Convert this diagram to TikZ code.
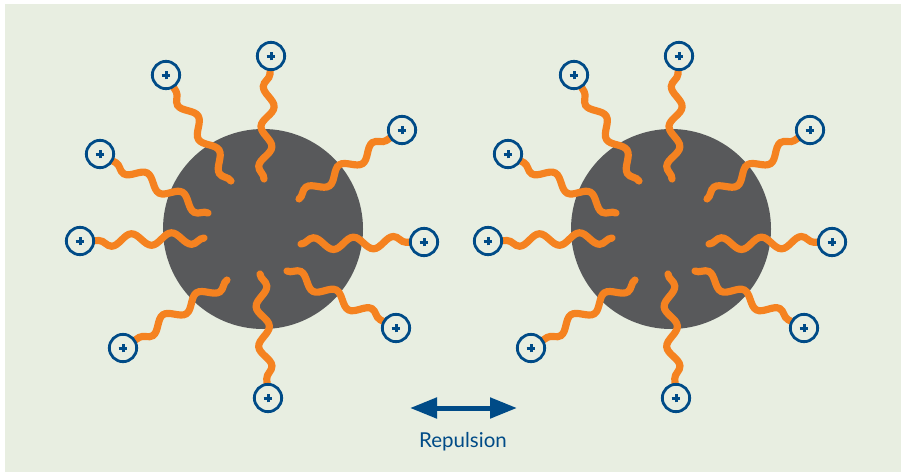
\documentclass[tikz,border=0pt]{standalone}
\usepackage{fontspec}
\setmainfont{Lato}
\usepackage{tikz}
\usetikzlibrary{arrows.meta, decorations.pathmorphing}
\definecolor{bgcol}{RGB}{232,238,225}
\definecolor{corecol}{RGB}{88,89,91}
\definecolor{tailcol}{RGB}{245,130,32}
\definecolor{headcol}{RGB}{0,75,135}
\pgfdeclarelayer{cores}
\pgfdeclarelayer{tails}
\pgfsetlayers{cores,tails,main}
\tikzstyle{core} = [circle, fill=corecol, minimum size=6cm, inner sep=0pt]
\tikzstyle{head} = [circle, draw=headcol, fill=bgcol, line width=2.4pt,
    minimum size=0.82cm, inner sep=0pt, outer sep=0pt,
    path picture={\draw[headcol, line width=0.09cm]
        ([xshift=-0.13cm]path picture bounding box.center) -- ([xshift=0.13cm]path picture bounding box.center)
        ([yshift=-0.13cm]path picture bounding box.center) -- ([yshift=0.13cm]path picture bounding box.center);}]
\tikzstyle{tail} = [draw=tailcol, line width=0.215cm, line cap=round, decorate,
    decoration={snake, segment length=1.2cm, amplitude=0.18cm}]
\tikzstyle{push} = [draw=headcol, line width=0.15cm,
    arrows={Triangle[length=0.81cm, width=0.6cm]-Triangle[length=0.81cm, width=0.6cm]}]
\tikzstyle{note} = [text=headcol, font=\fontsize{17.5}{20}\selectfont, inner sep=0pt]

% one particle: #1 name prefix, #2 x of its centre
\newcommand{\micelle}[2]{%
  \begin{scope}[shift={(#2,229)}]
    \begin{pgfonlayer}{cores}
      \node [core] (#1core) at (0,0) {};
    \end{pgfonlayer}
    % inner ends
    \coordinate (#1t1) at (-32,-48);
    \coordinate (#1t2) at (1,-50);
    \coordinate (#1t3) at (36,-30);
    \coordinate (#1t4) at (-55,-16);
    \coordinate (#1t5) at (-59,9);
    \coordinate (#1t6) at (38,15);
    \coordinate (#1t7) at (-36,51);
    \coordinate (#1t8) at (24,42);
    \coordinate (#1t9) at (-3,45);
    % charged heads
    \node [head] (#1h1) at (-97,-154) {};
    \node [head] (#1h2) at (8,-173) {};
    \node [head] (#1h3) at (139,-99) {};
    \node [head] (#1h4) at (-163,-75) {};
    \node [head] (#1h5) at (-183,12) {};
    \node [head] (#1h6) at (161,13) {};
    \node [head] (#1h7) at (-140,119) {};
    \node [head] (#1h8) at (133,99) {};
    \node [head] (#1h9) at (5,169) {};
    % tails
    \begin{pgfonlayer}{tails}
      \path [tail] (#1t1) -- (#1h1);
      \path [tail] (#1t2) -- (#1h2);
      \path [tail] (#1t3) -- (#1h3);
      \path [tail] (#1t4) -- (#1h4);
      \path [tail] (#1t5) -- (#1h5);
      \path [tail] (#1t6) -- (#1h6);
      \path [tail] (#1t7) -- (#1h7);
      \path [tail] (#1t8) -- (#1h8);
      \path [tail] (#1t9) -- (#1h9);
    \end{pgfonlayer}
  \end{scope}}

\begin{document}
\begin{tikzpicture}[x=0.03cm, y=-0.03cm]
    \useasboundingbox (0,0) rectangle (901,472);
    \begin{pgfonlayer}{cores}
      \fill [bgcol] (5,4) rectangle (901,472);
    \end{pgfonlayer}
    % Particles
    \micelle{a}{263}
    \micelle{b}{671}
    % Repulsion arrow
    \coordinate (pushl) at (410,408);
    \coordinate (pushr) at (517,408);
    \path [push] (pushl) -- (pushr);
    \node [note, anchor=base] (repulsion) at (463,447) {Repulsion};
\end{tikzpicture}
\end{document}
